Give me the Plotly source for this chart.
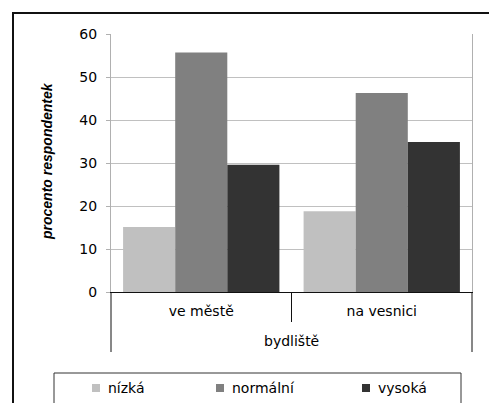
import plotly.graph_objects as go

# Data
categories = ["ve městě", "na vesnici"]
series_names = ["nízká", "normální", "vysoká"]
nizka = [15.1, 18.8]
normalni = [55.7, 46.3]
vysoka = [29.6, 34.9]
y_ticks = [0, 10, 20, 30, 40, 50, 60]
x_title = "bydliště"
y_title = "procento respondentek"

series_values = [nizka, normalni, vysoka]
series_colors = ["#c0c0c0", "#808080", "#333333"]

W, H = 489, 403
ML, MR, MT, MB = 111, 17, 34, 111
PW, PH = W - ML - MR, H - MT - MB

def px_x(p):
    return (p - ML) / PW

def px_y(p):
    return (H - MB - p) / PH

FONT = "DejaVu Sans"

fig = go.Figure()
for name, vals, col in zip(series_names, series_values, series_colors):
    fig.add_trace(go.Bar(
        x=categories, y=vals, name=name,
        marker=dict(color=col, line=dict(width=0)),
        showlegend=False,
    ))

shapes = []
# outer chart frame (runs off the right and bottom edges)
shapes.append(dict(type="rect", xref="paper", yref="paper",
                   x0=px_x(13), x1=px_x(W + 10), y0=px_y(H + 10), y1=px_y(13),
                   line=dict(color="#111111", width=2), layer="above"))
# category table below the axis
line_dark = dict(color="#111111", width=1)
shapes.append(dict(type="line", xref="paper", yref="paper",
                   x0=0, x1=0, y0=0, y1=px_y(352), line=line_dark))
shapes.append(dict(type="line", xref="paper", yref="paper",
                   x0=1, x1=1, y0=0, y1=px_y(352), line=line_dark))
shapes.append(dict(type="line", xref="paper", yref="paper",
                   x0=0.5, x1=0.5, y0=0, y1=px_y(322), line=line_dark))
# legend box
shapes.append(dict(type="rect", xref="paper", yref="paper",
                   x0=px_x(54), x1=px_x(461), y0=px_y(H + 10), y1=px_y(373),
                   line=dict(color="#333333", width=1)))

annotations = []
annotations.append(dict(text=y_title, xref="paper", yref="paper",
                        x=px_x(47), y=px_y(161), textangle=-90,
                        xanchor="center", yanchor="middle", showarrow=False,
                        font=dict(family="Liberation Sans", size=14, color="#000000",
                                  weight="bold", style="italic")))
annotations.append(dict(text=x_title, xref="paper", yref="paper",
                        x=0.5, y=px_y(341), xanchor="center", yanchor="middle",
                        showarrow=False,
                        font=dict(family=FONT, size=14, color="#000000")))

# legend entries
legend_sym_x = [92, 216, 362]
for name, col, sx in zip(series_names, series_colors, legend_sym_x):
    shapes.append(dict(type="rect", xref="paper", yref="paper",
                       x0=px_x(sx), x1=px_x(sx + 8), y0=px_y(392), y1=px_y(384),
                       fillcolor=col, line=dict(width=0)))
    annotations.append(dict(text=name, xref="paper", yref="paper",
                            x=px_x(sx + 14), y=px_y(388), xanchor="left",
                            yanchor="middle", showarrow=False,
                            font=dict(family=FONT, size=14, color="#000000")))

fig.update_layout(
    width=W, height=H,
    margin=dict(l=ML, r=MR, t=MT, b=MB, autoexpand=False),
    paper_bgcolor="#ffffff", plot_bgcolor="#ffffff",
    barmode="group", bargap=0.134, bargroupgap=0,
    font=dict(family=FONT, size=14, color="#000000"),
    shapes=shapes, annotations=annotations,
    xaxis=dict(
        type="category", showgrid=False, zeroline=False,
        showline=True, linecolor="#111111", linewidth=1,
        ticks="", ticklabelstandoff=6,
        tickfont=dict(family=FONT, size=14, color="#000000"),
    ),
    yaxis=dict(
        range=[0, 60], tickvals=y_ticks, showgrid=True, gridcolor="#c0c0c0",
        gridwidth=1, zeroline=False, showline=True, linecolor="#b0b0b0",
        mirror=True, ticks="outside", ticklen=4, tickcolor="#b0b0b0",
        ticklabelstandoff=6,
        tickfont=dict(family=FONT, size=14, color="#000000"),
    ),
)

fig.write_html("out.html")
